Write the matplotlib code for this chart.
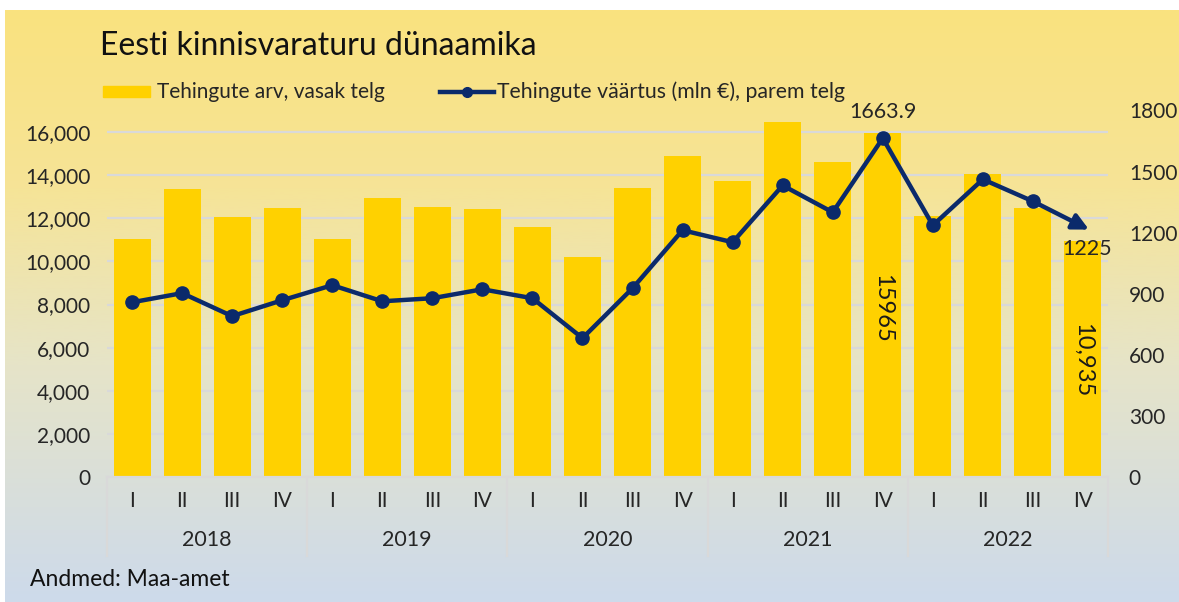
import numpy as np
import matplotlib.pyplot as plt
from matplotlib.colors import LinearSegmentedColormap
from matplotlib.lines import Line2D
from matplotlib.patches import Rectangle

plt.rcParams['font.family'] = ['Lato', 'DejaVu Sans']

# andmed
aastad = ['2018', '2019', '2020', '2021', '2022']
kvartalid = ['I', 'II', 'III', 'IV']
tehingute_arv = [11050, 13360, 12060, 12480,
                 11040, 12940, 12520, 12430,
                 11600, 10200, 13400, 14890,
                 13730, 16470, 14610, 15965,
                 12100, 14050, 12480, 10935]
tehingute_vaartus = [858, 903, 790, 868,
                     942, 863, 878, 922,
                     878, 682, 927, 1212,
                     1153, 1432, 1300, 1663.9,
                     1236, 1462, 1354, 1225]

KOLLANE = '#FFD100'
SININE = '#0B2A6B'
HALL = '#D9D9D9'
TEKST = '#262626'
FS = 15

W, H = 1179, 602
fig = plt.figure(figsize=(W / 100, H / 100), dpi=100)

# taust: kollane -> helesinine
bg = fig.add_axes([5 / W, 0, 1 - 5 / W, (H - 10) / H], zorder=-5)
cmap = LinearSegmentedColormap.from_list('bg', [(0, '#FAE27F'), (0.3, '#F6E497'),
                                                (0.6, '#E6E4C8'), (1, '#CDDAEB')])
bg.imshow(np.linspace(0, 1, 256).reshape(-1, 1), aspect='auto', cmap=cmap,
          extent=[0, 1, 1, 0])
bg.axis('off')

# joonise ala pikslites
x0, x1, y0, y1 = 107, 1108, 477, 110.5
ax = fig.add_axes([x0 / W, (H - y0) / H, (x1 - x0) / W, (y0 - y1) / H])
ax.patch.set_alpha(0)
n = len(tehingute_arv)
x = np.arange(n)

ax.bar(x, tehingute_arv, width=0.74, color=KOLLANE, zorder=2)
ax.set_xlim(-0.5, n - 0.5)
ax.set_ylim(0, 17000)
ax.set_yticks(range(0, 16001, 2000))
ax.set_yticklabels([f'{v:,}' for v in range(0, 16001, 2000)], fontsize=FS, color=TEKST)
ax.yaxis.grid(True, color=HALL, lw=1.6, zorder=0)
ax.set_axisbelow(True)
for s in ['top', 'right', 'left']:
    ax.spines[s].set_visible(False)
ax.spines['bottom'].set_color(HALL)
ax.spines['bottom'].set_linewidth(1.6)
ax.tick_params(axis='y', length=0, pad=12)
ax.set_xticks(x)
ax.set_xticklabels(kvartalid * len(aastad), fontsize=FS, color=TEKST)
ax.tick_params(axis='x', length=0, pad=10)

# aastad ja eraldusjooned
for i, a in enumerate(aastad):
    ax.text(4 * i + 1.5, -63 / (y0 - y1), a, transform=ax.get_xaxis_transform(),
            ha='center', va='center', fontsize=FS + 0.5, color=TEKST)
for i in range(len(aastad) + 1):
    ax.plot([4 * i - 0.5, 4 * i - 0.5], [0, -79 / (y0 - y1)], color=HALL, lw=1.6,
            transform=ax.get_xaxis_transform(), clip_on=False)

# parem telg
ax2 = ax.twinx()
ax2.patch.set_alpha(0)
ax2.set_ylim(0, 1800)
ax2.set_yticks(range(0, 1801, 300))
ax2.set_yticklabels([str(v) for v in range(0, 1801, 300)], fontsize=FS, color=TEKST)
ax2.tick_params(axis='y', length=0, pad=15)
for s in ax2.spines.values():
    s.set_visible(False)

ax2.plot(x[:-1], tehingute_vaartus[:-1], color=SININE, lw=3.2, marker='o', ms=9.5,
         solid_joinstyle='round', zorder=5)
ax2.annotate('', xy=(x[-1] + 0.12, tehingute_vaartus[-1] - 10),
             xytext=(x[-2], tehingute_vaartus[-2]),
             arrowprops=dict(arrowstyle='-|>', color=SININE, lw=3.2, mutation_scale=24,
                             shrinkA=0, shrinkB=0), zorder=5)

# andmesildid
ax2.annotate(f'{tehingute_vaartus[15]}', (x[15], tehingute_vaartus[15]), xytext=(0, 12),
             textcoords='offset points', ha='center', va='bottom', fontsize=15.5, color=TEKST)
ax2.annotate(f'{tehingute_vaartus[19]:.0f}', (x[19], tehingute_vaartus[19]), xytext=(3, -8),
             textcoords='offset points', ha='center', va='top', fontsize=15.5, color=TEKST)
ax.text(x[15], 7800, f'{tehingute_arv[15]}', rotation=-90, ha='center', va='center',
        fontsize=17, color='#1a1a1a', zorder=3)
ax.text(x[19], 5400, f'{tehingute_arv[19]:,}', rotation=-90, ha='center', va='center',
        fontsize=17, color='#1a1a1a', zorder=3)

# pealkiri, legend, allikas
fig.text(100 / W, 1 - 46 / H, 'Eesti kinnisvaraturu dünaamika', fontsize=23,
         color='#111111', va='center', ha='left')
fig.patches.append(Rectangle((103 / W, 1 - 97 / H), 47 / W, 11 / H,
                             transform=fig.transFigure, color=KOLLANE))
fig.text(157 / W, 1 - 92 / H, 'Tehingute arv, vasak telg', fontsize=FS, color=TEKST,
         va='center')
fig.lines.append(Line2D([440 / W, 494 / W], [1 - 92 / H, 1 - 92 / H], color=SININE, lw=3.2,
                        transform=fig.transFigure))
fig.lines.append(Line2D([467 / W], [1 - 92 / H], color=SININE, marker='o', ms=7,
                        transform=fig.transFigure))
fig.text(497 / W, 1 - 92 / H, 'Tehingute väärtus (mln €), parem telg', fontsize=FS + 0.3,
         color=TEKST, va='center')
fig.text(30 / W, 1 - 580 / H, 'Andmed: Maa-amet', fontsize=16.5, color='#111111',
         va='center')

fig.savefig('out.png', dpi=100)
